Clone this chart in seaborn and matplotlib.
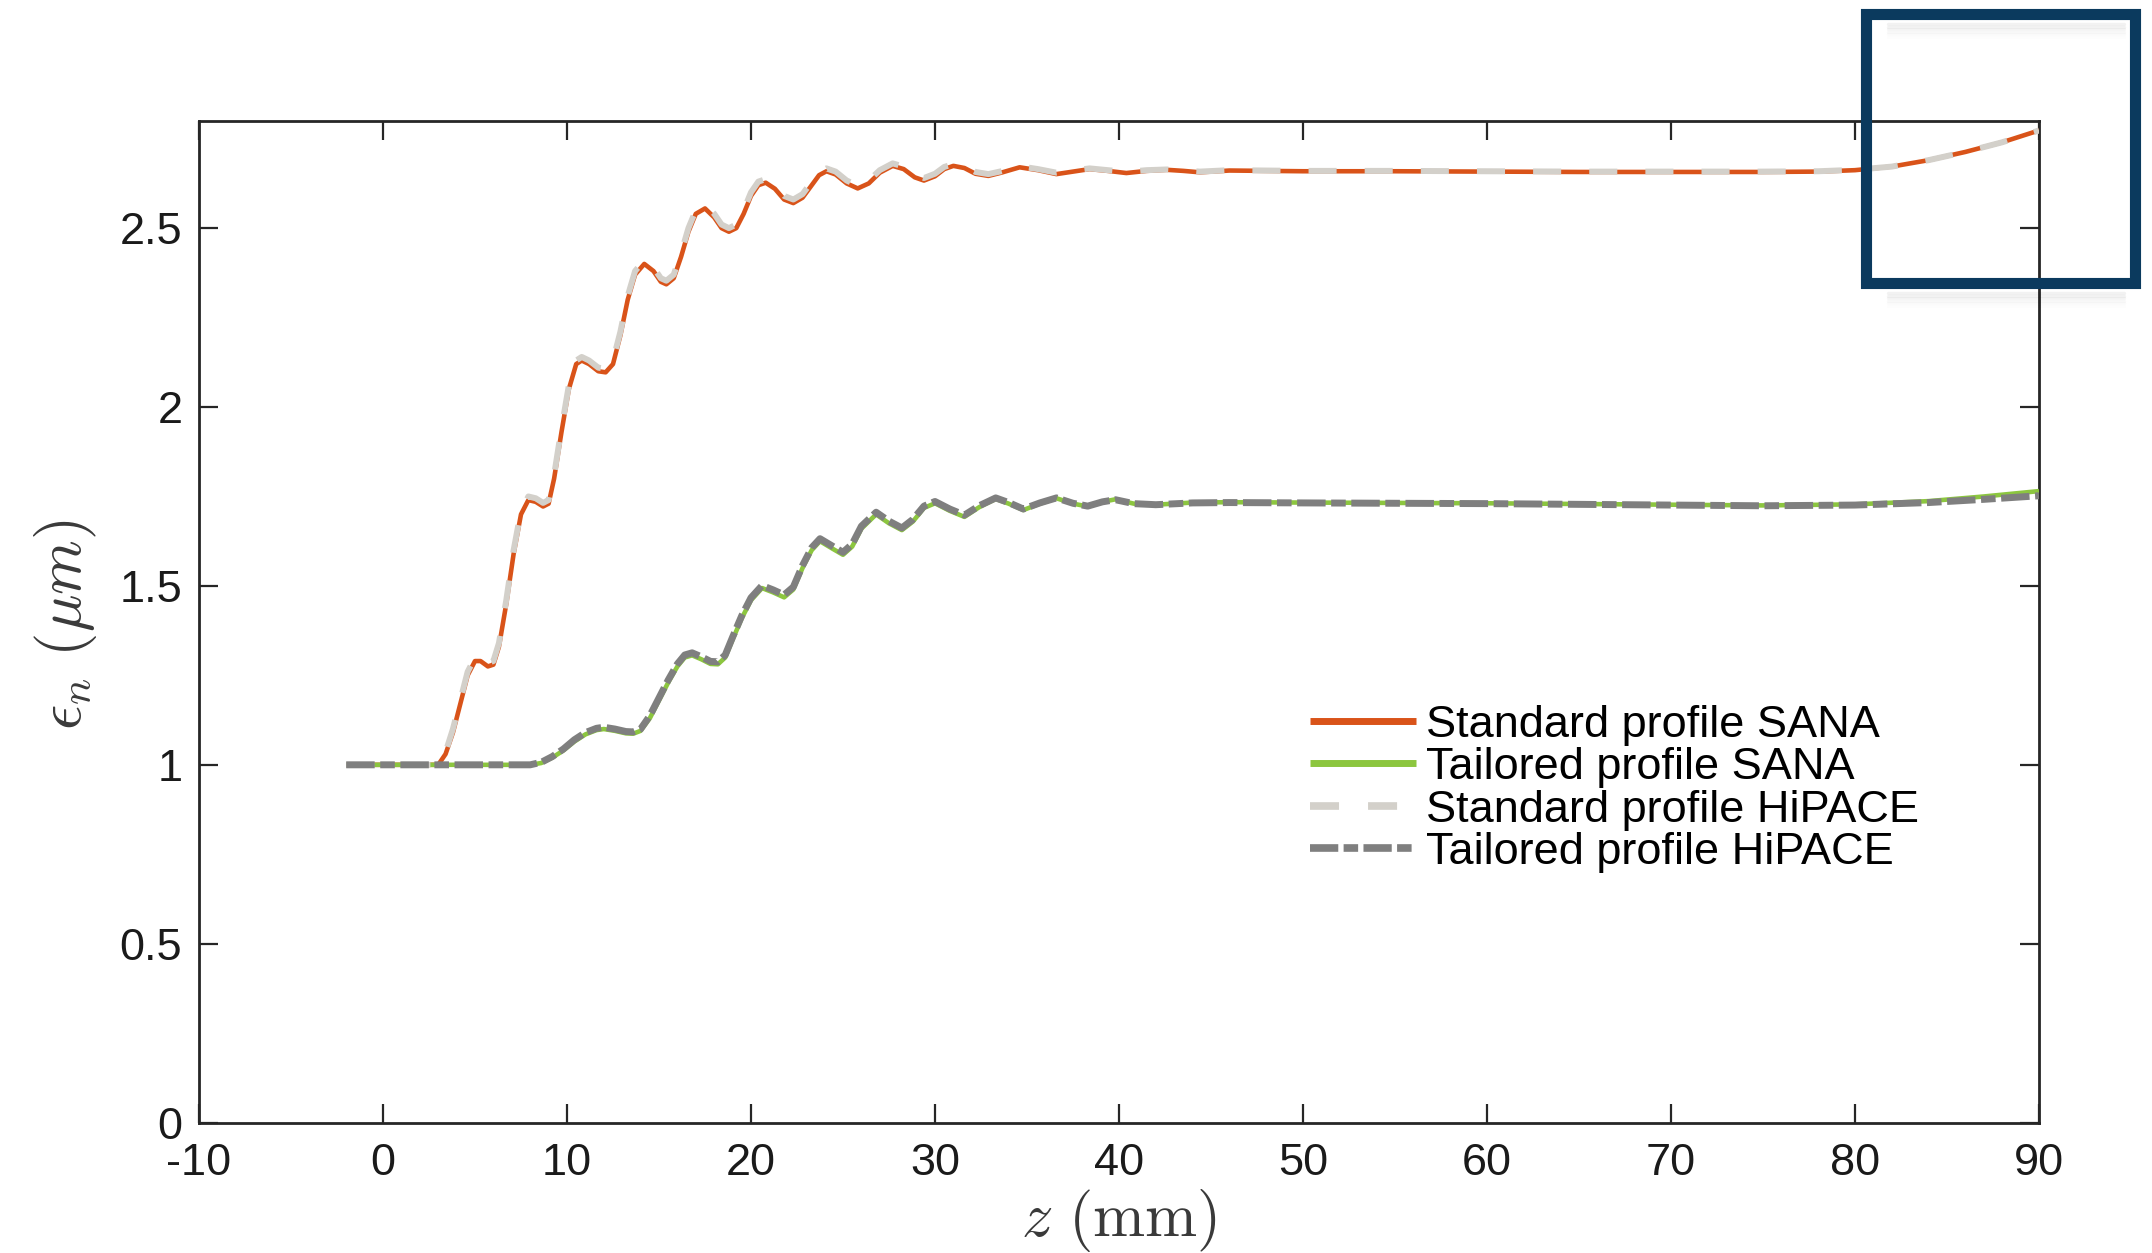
import matplotlib
matplotlib.use("Agg")
import matplotlib.pyplot as plt
import matplotlib.patches as mpatches
import seaborn as sns

# ---------------- data ----------------
z_std_sana = [-2, 0, 2, 3.0, 3.4, 3.8, 4.2, 4.6, 5.0, 5.3, 5.7, 6.0, 6.3, 6.7, 7.1, 7.5, 7.9,
              8.3, 8.7, 9.0, 9.3, 9.7, 10.1, 10.5, 10.8, 11.2, 11.7, 12.1, 12.5, 12.9, 13.3,
              13.7, 14.2, 14.7, 15.1, 15.4, 15.8, 16.2, 16.6, 17.0, 17.5, 18.0, 18.4, 18.8,
              19.2, 19.6, 20.0, 20.4, 20.8, 21.3, 21.8, 22.3, 22.8, 23.3, 23.7, 24.1, 24.6,
              25.2, 25.8, 26.4, 27.0, 27.7, 28.3, 28.9, 29.4, 30.0, 30.5, 31.0, 31.6, 32.2,
              32.9, 33.6, 34.6, 35.6, 36.6, 37.5, 38.4, 39.4, 40.4, 41.5, 42.6, 43.5, 44.4,
              46, 48, 50, 55, 60, 65, 70, 75, 78, 80, 82, 84, 86, 88, 90]
eps_std_sana = [1.0, 1.0, 1.0, 1.0, 1.03, 1.09, 1.17, 1.25, 1.29, 1.29, 1.275, 1.28, 1.33, 1.45,
                1.59, 1.70, 1.74, 1.735, 1.722, 1.73, 1.80, 1.93, 2.05, 2.12, 2.13, 2.12, 2.10,
                2.097, 2.12, 2.20, 2.30, 2.37, 2.40, 2.38, 2.35, 2.343, 2.36, 2.42, 2.49, 2.54,
                2.555, 2.53, 2.50, 2.49, 2.50, 2.54, 2.59, 2.62, 2.627, 2.61, 2.58, 2.57, 2.585,
                2.62, 2.648, 2.659, 2.65, 2.625, 2.611, 2.625, 2.655, 2.674, 2.665, 2.642, 2.633,
                2.645, 2.665, 2.674, 2.668, 2.652, 2.646, 2.655, 2.670, 2.662, 2.651, 2.658,
                2.665, 2.660, 2.654, 2.660, 2.663, 2.660, 2.656, 2.661, 2.660, 2.659, 2.659,
                2.658, 2.657, 2.657, 2.657, 2.658, 2.662, 2.672, 2.690, 2.713, 2.740, 2.773]

z_tail_sana = [-2, 2, 6, 8, 8.6, 9.2, 9.8, 10.4, 11.0, 11.6, 12.0, 12.6, 13.2, 13.6, 14.0, 14.5,
               15.0, 15.5, 16.0, 16.4, 16.8, 17.3, 17.8, 18.2, 18.6, 19.0, 19.5, 20.0, 20.6,
               21.2, 21.8, 22.3, 22.8, 23.3, 23.75, 24.4, 25.0, 25.5, 26.0, 26.8, 27.5, 28.2,
               28.8, 29.4, 30.0, 30.8, 31.6, 32.4, 33.3, 34.0, 34.8, 35.7, 36.6, 37.5, 38.3,
               39.1, 39.8, 40.8, 42.0, 44, 46, 50, 55, 60, 65, 70, 75, 80, 84, 87, 90]
eps_tail_sana = [1.0, 1.0, 1.0, 1.0, 1.005, 1.02, 1.04, 1.065, 1.085, 1.097, 1.10, 1.095, 1.088,
                 1.087, 1.095, 1.13, 1.18, 1.23, 1.275, 1.30, 1.306, 1.295, 1.282, 1.281, 1.30,
                 1.35, 1.41, 1.46, 1.494, 1.482, 1.468, 1.49, 1.55, 1.60, 1.625, 1.605, 1.587,
                 1.61, 1.66, 1.70, 1.675, 1.656, 1.68, 1.718, 1.731, 1.71, 1.693, 1.72, 1.743,
                 1.73, 1.712, 1.73, 1.745, 1.73, 1.722, 1.735, 1.742, 1.73, 1.727, 1.733, 1.734,
                 1.733, 1.732, 1.731, 1.729, 1.727, 1.725, 1.728, 1.737, 1.750, 1.765]

z_std_hipace = z_std_sana
eps_std_hipace = [1.0, 1.0, 1.0, 1.0, 1.035, 1.10, 1.18, 1.26, 1.30, 1.30, 1.285, 1.29, 1.34, 1.46,
                  1.60, 1.71, 1.75, 1.745, 1.732, 1.74, 1.81, 1.94, 2.06, 2.13, 2.14, 2.13, 2.11,
                  2.107, 2.13, 2.21, 2.31, 2.38, 2.41, 2.39, 2.36, 2.353, 2.37, 2.43, 2.50, 2.55,
                  2.565, 2.54, 2.51, 2.50, 2.51, 2.55, 2.60, 2.63, 2.637, 2.62, 2.59, 2.58, 2.595,
                  2.63, 2.657, 2.667, 2.658, 2.633, 2.619, 2.633, 2.662, 2.681, 2.672, 2.649,
                  2.640, 2.652, 2.671, 2.679, 2.673, 2.657, 2.651, 2.659, 2.673, 2.665, 2.655,
                  2.661, 2.667, 2.662, 2.657, 2.662, 2.664, 2.661, 2.658, 2.662, 2.661, 2.660,
                  2.660, 2.659, 2.658, 2.658, 2.658, 2.659, 2.663, 2.672, 2.690, 2.713, 2.740, 2.773]

z_tail_hipace = z_tail_sana
eps_tail_hipace = [1.0, 1.0, 1.0, 1.0, 1.007, 1.023, 1.044, 1.07, 1.09, 1.102, 1.105, 1.10, 1.093,
                   1.092, 1.10, 1.137, 1.187, 1.237, 1.282, 1.307, 1.313, 1.302, 1.289, 1.288,
                   1.307, 1.357, 1.417, 1.467, 1.501, 1.489, 1.475, 1.497, 1.557, 1.607, 1.632,
                   1.612, 1.594, 1.617, 1.667, 1.706, 1.681, 1.662, 1.686, 1.723, 1.736, 1.715,
                   1.698, 1.724, 1.746, 1.733, 1.715, 1.732, 1.746, 1.731, 1.723, 1.735, 1.741,
                   1.73, 1.727, 1.732, 1.733, 1.732, 1.731, 1.730, 1.728, 1.726, 1.724, 1.726,
                   1.733, 1.742, 1.752]

labels = ["Standard profile SANA", "Tailored profile SANA",
          "Standard profile HiPACE", "Tailored profile HiPACE"]
x_ticks = [-10, 0, 10, 20, 30, 40, 50, 60, 70, 80, 90]
y_ticks = [0, 0.5, 1, 1.5, 2, 2.5]
y_tick_labels = ["0", "0.5", "1", "1.5", "2", "2.5"]

# ---------------- style ----------------
sns.set_style("white")
plt.rcParams["font.family"] = ["Liberation Sans", "DejaVu Sans"]
plt.rcParams["mathtext.fontset"] = "cm"
plt.rcParams["axes.unicode_minus"] = False

fig = plt.figure(figsize=(21.52, 12.53), dpi=100)
ax = fig.add_axes([199 / 2152, 1 - 1122.6 / 1253, 1840 / 2152, 1001.8 / 1253])

c_orange = "#D95319"
c_green = "#8CC63F"
c_lgray = "#D3D0CA"
c_dgray = "#7F7F7F"

sns.lineplot(x=z_std_sana, y=eps_std_sana, ax=ax, color=c_orange, lw=3.3,
             label=labels[0], zorder=3, sort=False)
sns.lineplot(x=z_tail_sana, y=eps_tail_sana, ax=ax, color=c_green, lw=3.3,
             label=labels[1], zorder=3, sort=False)
sns.lineplot(x=z_std_hipace, y=eps_std_hipace, ax=ax, color=c_lgray, lw=4.3,
             linestyle=(0, (4.7, 4.7)), label=labels[2], zorder=4, sort=False)
sns.lineplot(x=z_tail_hipace, y=eps_tail_hipace, ax=ax, color=c_dgray, lw=5.0,
             linestyle=(0, (4.1, 0.8, 2.1, 0.8)), label=labels[3], zorder=4, sort=False)
for ln in ax.lines:
    ln.set_dash_capstyle("butt")
    ln.set_solid_capstyle("butt")
    ln.set_solid_joinstyle("round")
    ln.set_dash_joinstyle("round")

ax.set_xlim(-10, 90)
ax.set_ylim(0, 2.8)
ax.set_xticks(x_ticks)
ax.set_xticklabels([str(t) for t in x_ticks])
ax.set_yticks(y_ticks)
ax.set_yticklabels(y_tick_labels)

for s in ax.spines.values():
    s.set_visible(True)
    s.set_color("#262626")
    s.set_linewidth(2.0)
ax.tick_params(axis="both", which="major", direction="in", length=14, width=1.6,
               color="#262626", labelsize=32.5, labelcolor="#1a1a1a",
               top=True, right=True, bottom=True, left=True)
ax.tick_params(axis="x", pad=15)
ax.tick_params(axis="y", pad=12)

ax.set_xlabel(r"$z\ (\mathrm{mm})$", fontsize=45, color="#3a3a3a")
ax.set_ylabel(r"$\epsilon_n\ (\mu m)$", fontsize=45, color="#3a3a3a")
ax.xaxis.set_label_coords(0.5, -0.098)
ax.xaxis.label.set_va("center")
ax.yaxis.set_label_coords(-0.0723, 0.4967)
ax.yaxis.label.set_va("center")

leg = ax.legend(loc="upper left", bbox_to_anchor=(0.604, 0.417), frameon=False,
                fontsize=32.5, handlelength=2.35, handletextpad=0.22, labelspacing=0.03,
                borderpad=0, borderaxespad=0)
for t in leg.get_texts():
    t.set_color("black")
leg_lines = leg.get_lines()
leg_lines[0].set_linewidth(5.0)
leg_lines[1].set_linewidth(5.0)
leg_lines[2].set_linewidth(5.5)
leg_lines[2].set_linestyle((0, (3.8, 3.8)))
leg_lines[3].set_linewidth(5.5)
leg_lines[3].set_linestyle((0, (3.7, 0.7, 1.9, 0.7)))
for ln in leg_lines:
    ln.set_dash_capstyle("butt")
    ln.set_solid_capstyle("butt")

# hand-drawn style highlight frame in the top-right corner (with soft shadow)
x0, x1 = 1866 / 2152, 2135 / 2152
yb, yt = 1 - 283 / 1253, 1 - 14 / 1253
for k in range(1, 7):
    off = k * 2.5 / 1253
    for yy in (yt, yb):
        fig.add_artist(plt.Line2D([x0 + 0.01, x1 - 0.005], [yy - 0.006 - off, yy - 0.006 - off],
                                  transform=fig.transFigure, color="black",
                                  lw=2.5, alpha=0.05 * (7 - k) / 6, zorder=9))
frame = mpatches.Rectangle((x0, yb), x1 - x0, yt - yb, transform=fig.transFigure,
                           fill=False, edgecolor="#0B3A5E", lw=8, zorder=10)
fig.patches.append(frame)

fig.savefig("out.png", dpi=100)
